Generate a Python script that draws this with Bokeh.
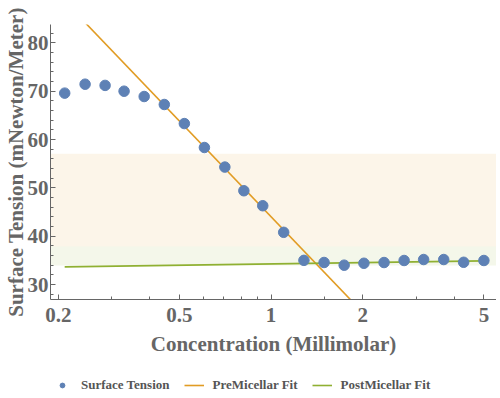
from bokeh.plotting import figure
from bokeh.layouts import column
from bokeh.models import (Range1d, FixedTicker, BoxAnnotation, Legend, LegendItem,
                          CustomJSTickFormatter)
from bokeh.embed import file_html
from bokeh.resources import INLINE

# ---- data ----
conc = [0.21, 0.245, 0.285, 0.329, 0.383, 0.446, 0.519, 0.604, 0.705, 0.814, 0.939,
        1.10, 1.282, 1.493, 1.738, 2.018, 2.35, 2.735, 3.17, 3.69, 4.29, 5.0]
tension = [69.6, 71.45, 71.2, 70.0, 68.9, 67.25, 63.3, 58.35, 54.3, 49.4, 46.3,
           40.8, 35.0, 34.56, 34.0, 34.4, 34.55, 34.97, 35.17, 35.17, 34.6, 34.97]
pre_fit_x = [0.21, 2.2]
pre_fit_y = [88.6, 21.5]
post_fit_x = [0.21, 5.0]
post_fit_y = [33.66, 34.9]
band_pre = [37.87, 57.04]
band_post = [33.93, 37.87]
x_major = [0.2, 0.5, 1, 2, 5]
x_minor = [0.3, 0.4, 0.6, 0.7, 0.8, 0.9, 1.5, 3, 4]
y_major = [30, 40, 50, 60, 70, 80]
y_minor = [28, 32, 34, 36, 38, 42, 44, 46, 48, 52, 54, 56, 58, 62, 64, 66, 68, 72, 74, 76, 78, 82]
series_names = ["Surface Tension", "PreMicellar Fit", "PostMicellar Fit"]

BLUE = "#5E81B5"
ORANGE = "#E19C24"
GREEN = "#8FB032"
TXT = "#666666"
FONT = "Liberation Serif"

p = figure(frame_width=446, frame_height=275, x_axis_type="log",
           x_range=Range1d(0.1886, 5.5), y_range=Range1d(26.9, 83.8),
           output_backend="svg", toolbar_location=None,
           min_border_left=46, min_border_right=0, min_border_top=24, min_border_bottom=64)
p.outline_line_color = None
p.xgrid.visible = False
p.ygrid.visible = False
p.background_fill_color = "white"
p.border_fill_color = "white"

p.add_layout(BoxAnnotation(bottom=band_pre[0], top=band_pre[1], fill_color=ORANGE,
                           fill_alpha=0.1, line_color=None, level="underlay"))
p.add_layout(BoxAnnotation(bottom=band_post[0], top=band_post[1], fill_color=GREEN,
                           fill_alpha=0.1, line_color=None, level="underlay"))

p.line(pre_fit_x, pre_fit_y, line_color=ORANGE, line_width=1.6)
p.line(post_fit_x, post_fit_y, line_color=GREEN, line_width=1.6)
p.scatter(conc, tension, size=10.5, fill_color=BLUE, line_color=BLUE)

for ax in (p.xaxis[0], p.yaxis[0]):
    ax.axis_line_color = "#666666"
    ax.major_tick_line_color = "#666666"
    ax.minor_tick_line_color = "#666666"
    ax.major_tick_in = 5
    ax.major_tick_out = 0
    ax.minor_tick_in = 3
    ax.minor_tick_out = 0
    ax.major_label_text_font = FONT
    ax.major_label_text_font_style = "bold"
    ax.major_label_text_font_size = "21px"
    ax.major_label_text_color = TXT
    ax.axis_label_text_font = FONT
    ax.axis_label_text_font_style = "bold"
    ax.axis_label_text_font_size = "21px"
    ax.axis_label_text_color = TXT

p.xaxis.ticker = FixedTicker(ticks=x_major, minor_ticks=x_minor)
p.xaxis.formatter = CustomJSTickFormatter(code="return tick.toString();")
p.xaxis.axis_label = "Concentration (Millimolar)"
p.xaxis.major_label_standoff = 8
p.xaxis.axis_label_standoff = 7

p.yaxis.ticker = FixedTicker(ticks=y_major, minor_ticks=y_minor)
p.yaxis.axis_label = "Surface Tension (mNewton/Meter)"
p.yaxis.major_label_standoff = 2
p.yaxis.axis_label_standoff = -3

# ---- legend strip below the chart (its glyphs sit outside the strip's visible range) ----
q = figure(width=492, height=36, x_range=Range1d(0, 1), y_range=Range1d(0, 1),
           output_backend="svg", toolbar_location=None,
           min_border=0, x_axis_location=None, y_axis_location=None)
q.outline_line_color = None
q.xgrid.visible = False
q.ygrid.visible = False
l_pts = q.scatter(conc[:1], tension[:1], size=5, fill_color=BLUE, line_color=BLUE)
l_pre = q.line(pre_fit_x, pre_fit_y, line_color=ORANGE, line_width=1.6)
l_post = q.line(post_fit_x, post_fit_y, line_color=GREEN, line_width=1.6)

legend = Legend(items=[LegendItem(label=series_names[0], renderers=[l_pts]),
                       LegendItem(label=series_names[1], renderers=[l_pre]),
                       LegendItem(label=series_names[2], renderers=[l_post])],
                orientation="horizontal", location=(2, 6),
                label_text_font=FONT, label_text_font_style="bold",
                label_text_font_size="13px", label_text_color="#555555",
                glyph_width=20, glyph_height=12, label_standoff=9, spacing=14,
                padding=2, margin=0, border_line_color=None, background_fill_alpha=0)
q.add_layout(legend, "center")

layout = column(p, q, spacing=0)
open("out.html", "w").write(file_html(layout, INLINE))
